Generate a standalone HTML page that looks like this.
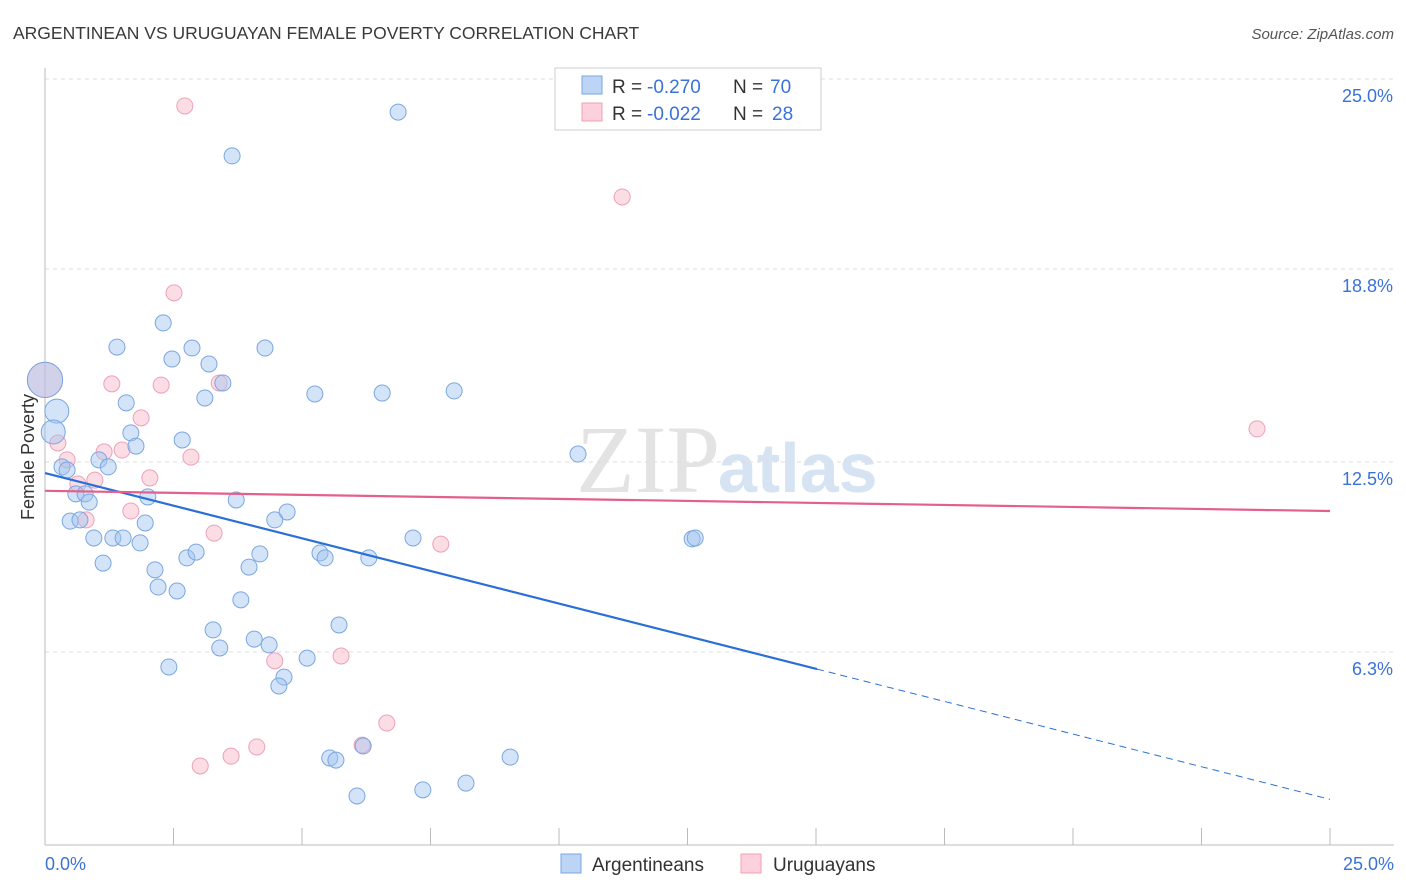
<!DOCTYPE html>
<html><head><meta charset="utf-8"><style>
body{margin:0;background:#fff;font-family:"Liberation Sans",sans-serif;}
svg{display:block}
</style></head><body>
<svg id="chart" width="1406" height="892">
<text x="13" y="39" font-size="17.5" fill="#3a3a3a">ARGENTINEAN VS URUGUAYAN FEMALE POVERTY CORRELATION CHART</text>
<text x="1394" y="39" font-size="15" fill="#555" font-style="italic" text-anchor="end">Source: ZipAtlas.com</text>
<text x="720" y="492" font-size="96" fill="#e3e3e3" font-family="Liberation Serif,serif" text-anchor="end">ZIP</text>
<text x="718" y="492" font-size="70" fill="#d6e3f3" font-weight="bold">atlas</text>
<text transform="translate(34,457) rotate(-90)" font-size="18" fill="#333" text-anchor="middle">Female Poverty</text>
<g id="grid"></g><g id="marks"></g>
<g>
<rect x="555" y="68" width="266" height="62" fill="#fff" stroke="#ccc"/>
<rect x="582" y="76" width="20" height="18" fill="#bcd4f5" stroke="#7aa6e0"/>
<rect x="582" y="103" width="20" height="18" fill="#fcd0dc" stroke="#eea0b6"/>
<text x="612" y="93" font-size="19" fill="#333">R =</text>
<text x="647" y="93" font-size="19" fill="#3a72d8">-0.270</text>
<text x="733" y="93" font-size="19" fill="#333">N =</text>
<text x="770" y="93" font-size="19" fill="#3a72d8">70</text>
<text x="612" y="120" font-size="19" fill="#333">R =</text>
<text x="647" y="120" font-size="19" fill="#3a72d8">-0.022</text>
<text x="733" y="120" font-size="19" fill="#333">N =</text>
<text x="772" y="120" font-size="19" fill="#3a72d8">28</text>
</g>
<g>
<rect x="561" y="854" width="20" height="19" fill="#bcd4f5" stroke="#7aa6e0"/>
<text x="592" y="871" font-size="19" fill="#333">Argentineans</text>
<rect x="741" y="854" width="20" height="19" fill="#fcd0dc" stroke="#eea0b6"/>
<text x="773" y="871" font-size="19" fill="#333">Uruguayans</text>
</g>
</svg>
<script>
const yTicks=[25.0,18.8,12.5,6.3];
const yTickLabels=["25.0%","18.8%","12.5%","6.3%"];
const xTickCount=10;
const xLabels=["0.0%","25.0%"];
const blueX=[6.87,3.64,2.30,1.40,2.86,4.28,2.47,3.19,3.46,5.25,6.56,7.96,3.11,1.58,0.23,1.67,2.67,1.77,0.16,10.37,1.05,1.23,0.33,0.43,0.60,0.78,0.86,2.00,3.72,4.71,4.47,0.49,0.68,1.95,0.95,1.32,1.52,1.85,7.16,12.59,12.65,1.13,2.76,2.94,4.18,5.35,5.45,6.30,2.14,3.97,2.20,2.57,3.81,5.72,3.27,4.07,4.36,3.40,2.41,5.10,4.65,4.55,5.54,5.66,6.19,9.05,6.07,7.35,8.19,0];
const blueY=[23.92,22.49,17.04,16.25,16.22,16.22,15.86,15.70,15.08,14.72,14.75,14.82,14.59,14.43,14.16,13.45,13.22,13.02,13.48,12.76,12.57,12.34,12.34,12.24,11.46,11.46,11.19,11.36,11.26,10.87,10.61,10.57,10.61,10.51,10.02,10.02,10.02,9.86,10.02,9.99,10.02,9.20,9.37,9.56,9.50,9.53,9.37,9.37,8.98,9.07,8.42,8.29,8.00,7.18,7.02,6.72,6.53,6.43,5.81,6.10,5.48,5.19,2.84,2.77,3.23,2.87,1.60,1.80,2.02,15.18];
const blueSize=[1,1,1,1,1,1,1,1,1,1,1,1,1,1,1.5,1,1,1,1.5,1,1,1,1,1,1,1,1,1,1,1,1,1,1,1,1,1,1,1,1,1,1,1,1,1,1,1,1,1,1,1,1,1,1,1,1,1,1,1,1,1,1,1,1,1,1,1,1,1,1,2.2];
const pinkX=[2.72,11.23,2.51,0,1.30,2.26,3.39,1.87,0.25,23.58,1.15,1.50,2.84,0.43,2.04,0.64,0.97,1.67,0.80,3.29,7.70,4.47,5.76,6.65,4.12,6.17,3.62,3.02];
const pinkY=[24.12,21.15,18.02,15.18,15.05,15.01,15.08,13.94,13.12,13.58,12.83,12.89,12.66,12.57,11.98,11.78,11.91,10.90,10.61,10.18,9.82,6.01,6.17,3.98,3.20,3.26,2.90,2.58];
const pinkSize=[1,1,1,2.2,1,1,1,1,1,1,1,1,1,1,1,1,1,1,1,1,1,1,1,1,1,1,1,1];
const blueLine=[12.14,-0.426]; // intercept, slope
const blueSolidEnd=15.02;
const pinkLine=[11.56,-0.0264];
const X0=45,X1=1330,Y0=845,PXY=30.64;
const sx=v=>X0+(X1-X0)*v/25, sy=v=>Y0-v*PXY;
const NS="http://www.w3.org/2000/svg";
function mk(parent,tag,attrs){const e=document.createElementNS(NS,tag);for(const k in attrs)e.setAttribute(k,attrs[k]);document.getElementById(parent).appendChild(e);return e;}
yTicks.forEach((t,i)=>{
 const g=mk('grid','line',{x1:X0,x2:1394,y1:sy(t),y2:sy(t),stroke:'#ddd','stroke-dasharray':'4,4'});
 
 
 const l=mk('grid','text',{x:1393,y:sy(t)+23,'font-size':18,fill:'#3a72d8','text-anchor':'end'});
 l.textContent=yTickLabels[i];
 
 
});
const ax=mk('grid','line',{x1:X0,x2:X0,y1:68,y2:Y0,stroke:'#bbb'});


const bx=mk('grid','line',{x1:X0,x2:1394,y1:Y0,y2:Y0,stroke:'#bbb'});


for(let i=0;i<=xTickCount;i++){
 const t=mk('grid','line',{x1:sx(i*2.5),x2:sx(i*2.5),y1:828,y2:Y0,stroke:'#bbb'});
 
 
}
[[0,'start',45],[25,'end',1394]].forEach((d,i)=>{
 const l=mk('grid','text',{x:d[2],y:870,'font-size':18,fill:'#3a72d8','text-anchor':d[1]});
 l.textContent=xLabels[i];
 
 
});
pinkX.forEach((x,i)=>{
 const c=mk('marks','circle',{cx:sx(x),cy:sy(pinkY[i]),r:8*pinkSize[i],fill:'rgba(248,180,200,0.45)',stroke:'#eea0b6','stroke-width':1});
 
 
});
blueX.forEach((x,i)=>{
 const c=mk('marks','circle',{cx:sx(x),cy:sy(blueY[i]),r:8*blueSize[i],fill:'rgba(160,195,240,0.45)',stroke:'#7aa6e0','stroke-width':1});
 
 
});
const f=(L,x)=>L[0]+L[1]*x;
const bl=mk('marks','line',{x1:sx(0),y1:sy(f(blueLine,0)),x2:sx(blueSolidEnd),y2:sy(f(blueLine,blueSolidEnd)),stroke:'#2a6fd6','stroke-width':2.2});


const bd=mk('marks','line',{x1:sx(blueSolidEnd),y1:sy(f(blueLine,blueSolidEnd)),x2:sx(25),y2:sy(f(blueLine,25)),stroke:'#2a6fd6','stroke-width':1,'stroke-dasharray':'7,5'});


const pl=mk('marks','line',{x1:sx(0),y1:sy(f(pinkLine,0)),x2:sx(25),y2:sy(f(pinkLine,25)),stroke:'#e4608c','stroke-width':2.2});


</script>
</body></html>
